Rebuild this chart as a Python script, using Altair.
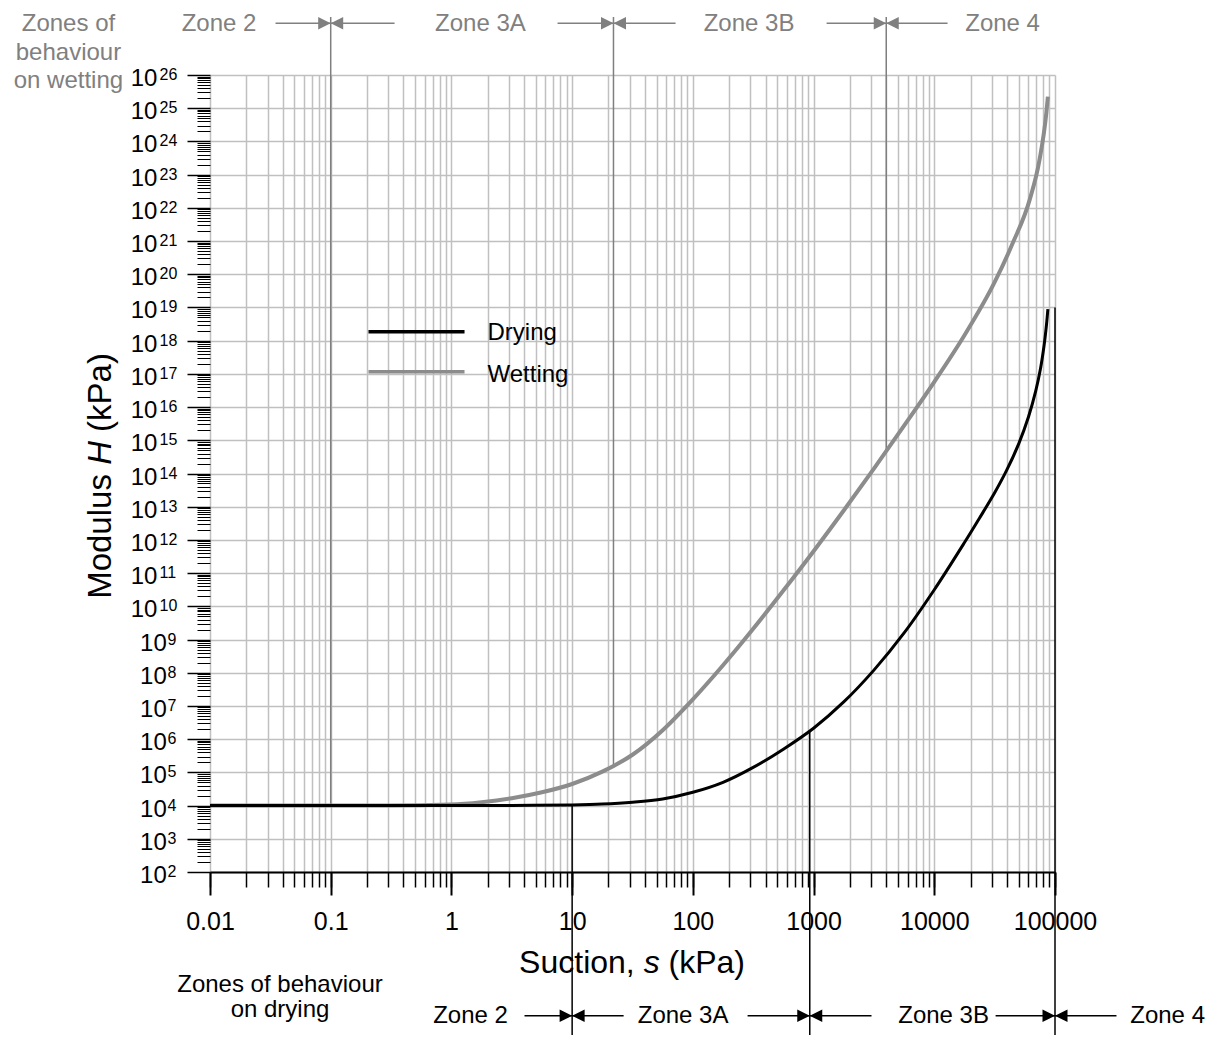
import altair as alt
import pandas as pd

FONT = "Liberation Sans, Arial, Helvetica, sans-serif"
GRAY = "#808080"
WETC = "#8c8c8c"
GRIDC = "#c0c0c0"

# ---- curves (suction s in kPa, modulus H in kPa) ----
dry_s = [0.01, 0.1, 1, 3.162, 10, 17.78, 31.62, 56.23, 100, 177.8, 316.2, 562.3,
         1000, 1778, 3162, 5623, 10000, 17783, 23714, 31623, 39811, 50119, 60256,
         69183, 75858, 81283, 85114, 87300]
dry_H = [1.0e4, 1.0e4, 1.0e4, 1.01e4, 1.05e4, 1.11e4, 1.26e4, 1.58e4, 2.51e4,
         5.01e4, 1.41e5, 5.01e5, 2.14e6, 1.32e7, 1.2e8, 1.58e9, 3.16e10, 8.32e11,
         4.57e12, 2.63e13, 1.26e14, 7.94e14, 5.01e15, 3.02e16, 1.45e17, 7.41e17,
         3.16e18, 8.9e18]
wet_s = [0.01, 0.1, 0.316, 1, 1.778, 3.162, 5.623, 10, 17.78, 31.62, 56.23, 100,
         177.8, 316.2, 562.3, 1000, 1778, 3162, 5623, 10000, 17783, 31623, 44668,
         61660, 74470, 84720, 87300]
wet_H = [1.0e4, 1.0e4, 1.0e4, 1.07e4, 1.26e4, 1.66e4, 2.51e4, 4.47e4, 1.05e5,
         3.39e5, 1.86e6, 1.58e7, 1.68e8, 2.11e9, 2.99e10, 4.57e11, 7.67e12, 1.41e14,
         2.75e15, 5.75e16, 1.45e18, 5.75e19, 8.7e20, 1.74e22, 2.82e23, 7.08e24,
         2.24e25]

# ---- zone boundaries ----
wet_bound_s = [0.1, 22, 4000]
wet_bound_H = [1.0e4, 1.63e5, 4.8e14]
dry_bound_s = [10, 930, 100000]
dry_bound_H = [1.05e4, 1.78e6, 1.0e19]

# ---- annotation rows (data units) ----
top_line_H = 5.6e27
bottom_line_H = 7.0e-4
top_arrow_H = 3.6e27
top_text_H = 2.07e27
bottom_arrow_H = 4.67e-3
bottom_text_H = 2.93e-3

top_labels = ["Zone 2", "Zone 3A", "Zone 3B", "Zone 4"]
top_label_s = [0.01187, 1.74, 292, 36800]
top_seg_from = [0.0349, 0.1, 7.57, 22, 1282, 4000]
top_seg_to = [0.1, 0.338, 22, 71.9, 4000, 12880]

bottom_labels = ["Zone 2", "Zone 3A", "Zone 3B", "Zone 4"]
bottom_label_s = [1.44, 83, 11940, 857000]
bottom_seg_from = [4.03, 10, 284, 930, 32200, 100000]
bottom_seg_to = [10, 26.7, 930, 3020, 100000, 323000]

wet_note = ["Zones of", "behaviour", "on wetting"]
wet_note_s = [6.72e-4, 6.72e-4, 6.72e-4]
wet_note_H = [2.14e27, 2.87e26, 4.11e25]
dry_note = ["Zones of behaviour", "on drying"]
dry_note_s = [0.038, 0.038]
dry_note_H = [0.0248, 4.2e-3]

legend_names = ["Drying", "Wetting"]
legend_line_s = [0.2055, 1.284]
legend_line_H = [1.84e18, 1.15e17]
legend_text_s = 1.99
legend_text_H = [1.05e18, 5.86e16]

# ---- axis titles (pieces so that the symbol is italic) ----
x_title_parts = ["Suction,", "s", "(kPa)"]
x_title_s = [33.0, 39.1, 62.9]
x_title_align = ["right", "left", "left"]
x_title_style = ["normal", "italic", "normal"]
x_title_H = 0.0908
y_title_parts = ["Modulus", "H", "(kPa)"]
y_title_H = [9.6e13, 1.82e14, 1.79e15]
y_title_align = ["right", "left", "left"]
y_title_style = ["normal", "italic", "normal"]
y_title_s = 1.499e-3

# ---- ticks ----
x_major = [0.01, 0.1, 1, 10, 100, 1000, 10000, 100000]
x_minor = [round(k * 10.0 ** d, 6) for d in range(-2, 5) for k in range(1, 10)] + [100000]
y_exponents = list(range(2, 27))
y_major = [10.0 ** e for e in y_exponents]
y_minor = [k * 10.0 ** e for e in range(2, 26) for k in range(2, 10)]

# y tick label pieces ("10" + raised exponent), placed left of the axis
ylab_base_s_1digit = 4.385e-3
ylab_base_s_2digit = 3.67e-3
ylab_exp_s_1digit = 4.44e-3
ylab_exp_s_2digit = 3.82e-3

xs = alt.Scale(type="log", domain=[0.01, 100000], nice=False)
ys = alt.Scale(type="log", domain=[1e2, 1e26], nice=False)


def X(field="s", axis=None):
    return alt.X(f"{field}:Q", scale=xs, axis=axis)


def Y(field="H", axis=None):
    return alt.Y(f"{field}:Q", scale=ys, axis=axis)


major_x_axis = alt.Axis(
    orient="bottom", values=x_major,
    labelExpr="datum.value < 1 ? format(datum.value, '.2~f') : format(datum.value, 'd')",
    tickSize=23, tickWidth=2, tickColor="black",
    domain=True, domainColor="black", domainWidth=2, grid=False,
    labelFont=FONT, labelFontSize=25, labelColor="black", labelPadding=14,
    labelFlush=False, labelOverlap=False, title=None)
minor_x_axis = alt.Axis(
    orient="bottom", values=x_minor, tickSize=15, tickWidth=1.5, tickColor="black",
    labels=False, domain=False, grid=True, gridColor=GRIDC, gridWidth=1.5, title=None)
major_y_axis = alt.Axis(
    orient="left", values=y_major, labels=False,
    tickSize=23, tickWidth=1.5, tickColor="black",
    domain=False, grid=True, gridColor=GRIDC, gridWidth=1.5, title=None)
minor_y_axis = alt.Axis(
    orient="left", values=y_minor, tickSize=13, tickWidth=1, tickColor="black",
    labels=False, domain=False, grid=False, title=None)

dry_df = pd.DataFrame({"s": dry_s, "H": dry_H})
wet_df = pd.DataFrame({"s": wet_s, "H": wet_H})

minor_layer = alt.Chart(dry_df).mark_point(opacity=0).encode(
    x=X(axis=minor_x_axis), y=Y(axis=minor_y_axis))

wet_bounds = alt.Chart(pd.DataFrame({
    "s": wet_bound_s, "Hc": wet_bound_H, "Ht": [top_line_H] * 3})
).mark_rule(color="#7f7f7f", strokeWidth=1.5).encode(x=X(), y=Y("Ht"), y2="Hc")

dry_bounds = alt.Chart(pd.DataFrame({
    "s": dry_bound_s, "Hc": dry_bound_H, "Hb": [bottom_line_H] * 3})
).mark_rule(color="black", strokeWidth=1.5).encode(x=X(), y=Y("Hc"), y2="Hb")

wet_line = alt.Chart(wet_df).mark_line(
    color=WETC, strokeWidth=4, interpolate="monotone").encode(x=X(), y=Y())
dry_line = alt.Chart(dry_df).mark_line(
    color="black", strokeWidth=3, interpolate="catmull-rom").encode(
    x=X(axis=major_x_axis), y=Y(axis=major_y_axis))

# y tick labels: "10" and exponent as separate text pieces
ylab_df = pd.DataFrame({
    "H": y_major,
    "base": ["10"] * len(y_exponents),
    "exp": [str(e) for e in y_exponents],
    "bs": [ylab_base_s_1digit if e < 10 else ylab_base_s_2digit for e in y_exponents],
    "es": [ylab_exp_s_1digit if e < 10 else ylab_exp_s_2digit for e in y_exponents],
})
ylab_base = alt.Chart(ylab_df).mark_text(
    font=FONT, fontSize=24, color="black", align="right", baseline="alphabetic", dy=11
).encode(x=X("bs"), y=Y(), text="base:N")
ylab_exp = alt.Chart(ylab_df).mark_text(
    font=FONT, fontSize=16, color="black", align="left", baseline="alphabetic", dy=5
).encode(x=X("es"), y=Y(), text="exp:N")

# axis titles
title_layers = []
for txt, s, al, st in zip(x_title_parts, x_title_s, x_title_align, x_title_style):
    title_layers.append(
        alt.Chart(pd.DataFrame({"t": [txt], "s": [s], "H": [x_title_H]})).mark_text(
            font=FONT, fontSize=32, fontStyle=st, color="black", align=al,
            baseline="alphabetic").encode(x=X(), y=Y(), text="t:N"))
for txt, h, al, st in zip(y_title_parts, y_title_H, y_title_align, y_title_style):
    title_layers.append(
        alt.Chart(pd.DataFrame({"t": [txt], "s": [y_title_s], "H": [h]})).mark_text(
            font=FONT, fontSize=33, fontStyle=st, color="black", align=al,
            baseline="alphabetic", angle=270).encode(x=X(), y=Y(), text="t:N"))

RIGHT = "M -1 -0.5 L 0 0 L -1 0.5 Z"
LEFT = "M 1 -0.5 L 0 0 L 1 0.5 Z"


def arrow_layers(seg_from, seg_to, tips, H, color):
    segs = alt.Chart(pd.DataFrame({"s1": seg_from, "s2": seg_to, "H": [H] * len(seg_from)})
                     ).mark_rule(color=color, strokeWidth=1.5).encode(x=X("s1"), x2="s2", y=Y())
    tip_df = pd.DataFrame({"s": tips, "H": [H] * len(tips)})
    rh = alt.Chart(tip_df).mark_point(shape=RIGHT, size=625, filled=True, color=color,
                                      opacity=1, strokeWidth=0).encode(x=X(), y=Y())
    lh = alt.Chart(tip_df).mark_point(shape=LEFT, size=625, filled=True, color=color,
                                      opacity=1, strokeWidth=0).encode(x=X(), y=Y())
    return [segs, rh, lh]


top_arrows = arrow_layers(top_seg_from, top_seg_to, wet_bound_s, top_arrow_H, GRAY)
bottom_arrows = arrow_layers(bottom_seg_from, bottom_seg_to, dry_bound_s, bottom_arrow_H, "black")

top_text = alt.Chart(pd.DataFrame({"label": top_labels, "s": top_label_s,
                                   "H": [top_text_H] * 4})).mark_text(
    font=FONT, fontSize=24, color=GRAY, align="center", baseline="alphabetic"
).encode(x=X(), y=Y(), text="label:N")

bottom_text = alt.Chart(pd.DataFrame({"label": bottom_labels, "s": bottom_label_s,
                                      "H": [bottom_text_H] * 4})).mark_text(
    font=FONT, fontSize=24, color="black", align="center", baseline="alphabetic"
).encode(x=X(), y=Y(), text="label:N")

wet_note_text = alt.Chart(pd.DataFrame({"label": wet_note, "s": wet_note_s, "H": wet_note_H})
                          ).mark_text(font=FONT, fontSize=24, color=GRAY, align="center",
                                      baseline="alphabetic").encode(x=X(), y=Y(), text="label:N")
dry_note_text = alt.Chart(pd.DataFrame({"label": dry_note, "s": dry_note_s, "H": dry_note_H})
                          ).mark_text(font=FONT, fontSize=24, color="black", align="center",
                                      baseline="alphabetic").encode(x=X(), y=Y(), text="label:N")

leg_df = pd.DataFrame({"name": legend_names, "s1": [legend_line_s[0]] * 2,
                       "s2": [legend_line_s[1]] * 2, "H": legend_line_H,
                       "ts": [legend_text_s] * 2, "tH": legend_text_H})
leg_lines = alt.Chart(leg_df).mark_rule(strokeWidth=3.5).encode(
    x=X("s1"), x2="s2", y=Y(),
    color=alt.Color("name:N", scale=alt.Scale(domain=legend_names, range=["black", WETC]),
                    legend=None))
leg_text = alt.Chart(leg_df).mark_text(font=FONT, fontSize=24, color="black", align="left",
                                       baseline="alphabetic").encode(
    x=X("ts"), y=Y("tH"), text="name:N")

chart = alt.layer(
    minor_layer, wet_bounds, dry_bounds, wet_line, dry_line, ylab_base, ylab_exp,
    *title_layers, *top_arrows, *bottom_arrows, top_text, bottom_text,
    wet_note_text, dry_note_text, leg_lines, leg_text
).resolve_scale(x="shared", y="shared").resolve_axis(
    x="independent", y="independent"
).properties(
    width=845, height=797,
    padding={"left": 202, "top": 67, "right": 155, "bottom": 163},
    autosize=alt.AutoSizeParams(type="none"),
    background="white",
).configure_view(stroke=None)

chart.save("out.html", embed_options={"renderer": "svg", "actions": False})
